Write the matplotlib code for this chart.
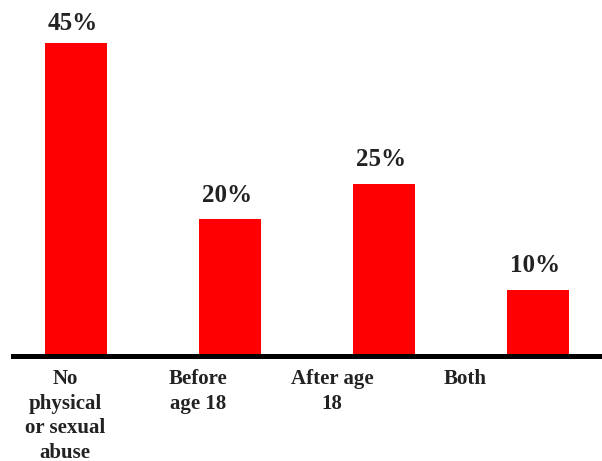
import matplotlib
matplotlib.use("Agg")
import matplotlib.pyplot as plt
import numpy as np

categories = ["No\nphysical\nor sexual\nabuse", "Before\nage 18", "After age\n18", "Both"]
values = [45, 20, 25, 10]
value_labels = ["45%", "20%", "25%", "10%"]

plt.rcParams["font.family"] = ["Liberation Serif", "DejaVu Serif"]
plt.rcParams["font.weight"] = "bold"

fig = plt.figure(figsize=(6.02, 4.61), dpi=100)
ax = fig.add_axes([13 / 602, (461 - 355.7) / 461, 1 - 13 / 602, 355.7 / 461])

x = np.arange(len(values))
bars = ax.bar(x, values, width=0.4, color="#ff0000", zorder=1)

ax.set_xlim(-0.408, 3.415)
ax.set_ylim(0.70, 51.04)

# value labels above bars (first one sits closer, as in the reference)
gaps = [5.8, 9.0, 9.0, 9.0]
for rect, lab, gap in zip(bars, value_labels, gaps):
    ax.annotate(lab, (rect.get_x() + rect.get_width() / 2 - 0.02, rect.get_height()),
                xytext=(0, gap), textcoords="offset points",
                ha="center", va="bottom", fontsize=18, fontweight="bold",
                color="#222222")

for side in ["left", "right", "top"]:
    ax.spines[side].set_visible(False)
ax.spines["bottom"].set_linewidth(3.6)
ax.spines["bottom"].set_color("black")
ax.spines["bottom"].set_zorder(3)
ax.set_yticks([])

label_x = -0.07 + 0.866 * np.arange(len(categories))
ax.set_xticks(label_x)
ax.set_xticklabels(categories, fontsize=15, fontweight="bold", color="#222222",
                   linespacing=1.32, va="top")
ax.tick_params(axis="x", length=0, pad=9.5)

fig.savefig("out.png", dpi=100)
